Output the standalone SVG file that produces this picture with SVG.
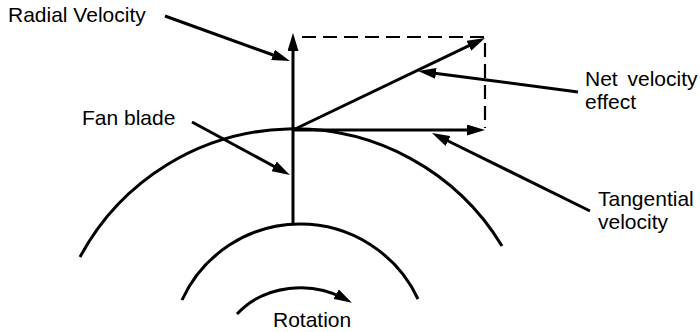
<svg xmlns="http://www.w3.org/2000/svg" width="700" height="332" viewBox="0 0 700 332">
<style>
.ln{fill:none;stroke:#000;stroke-width:3;}
.dash{fill:none;stroke:#000;stroke-width:2.2;stroke-dasharray:14 7;}
.lbl{font-family:"Liberation Sans",Arial,sans-serif;font-size:21px;fill:#000;}
</style>
<defs>
<marker id="ah" markerUnits="userSpaceOnUse" markerWidth="18" markerHeight="11" refX="9" refY="5.5" orient="auto" viewBox="0 0 18 11">
<path d="M0,0 L18,5.5 L0,11 z" fill="#000"/>
</marker>
</defs>
<rect width="700" height="332" fill="#fff"/>
<g id="wheel">
<path class="ln" d="M80,257 A243,243 0 0 1 502,246"/>
<path class="ln" d="M182,300 A130,130 0 0 1 418,299"/>
</g>
<g id="parallelogram">
<path class="dash" d="M302,37 L485,37 L485,128"/>
</g>
<g id="connectors">
<path class="ln" d="M293,225 L293,42" marker-end="url(#ah)"/>
<path class="ln" d="M293,130 L476,130" marker-end="url(#ah)"/>
<path class="ln" d="M293,130 L476.9,41.9" marker-end="url(#ah)"/>
<path class="ln" d="M165,16 L281.5,58" marker-end="url(#ah)"/>
<path class="ln" d="M192,122 L282,170.7" marker-end="url(#ah)"/>
<path class="ln" d="M578,92 L427,72.2" marker-end="url(#ah)"/>
<path class="ln" d="M590,211 L440,137" marker-end="url(#ah)"/>
<path class="ln" d="M237,314 C265,284 312,281 344,298.5" marker-end="url(#ah)"/>
</g>
<g id="radial-label"><text class="lbl" x="8" y="22">Radial Velocity</text></g>
<g id="fan-label"><text class="lbl" x="82" y="125">Fan blade</text></g>
<g id="net-label"><text class="lbl" x="585" y="86" word-spacing="4">Net velocity</text><text class="lbl" x="585" y="109">effect</text></g>
<g id="tangential-label"><text class="lbl" x="598" y="206">Tangential</text><text class="lbl" x="598" y="229">velocity</text></g>
<g id="rotation-label"><text class="lbl" x="273" y="327">Rotation</text></g>
</svg>
